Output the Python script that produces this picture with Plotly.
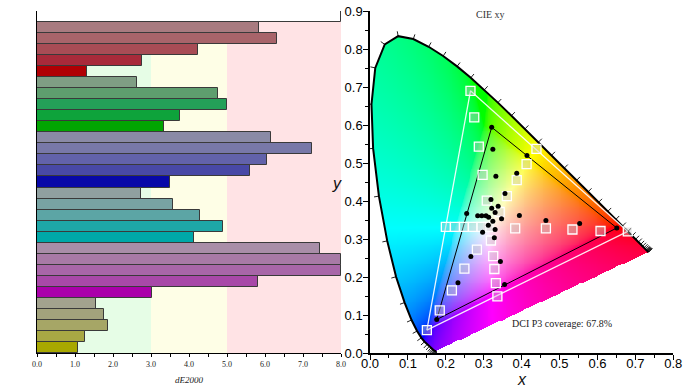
import numpy as np
import plotly.graph_objects as go

# ---------------- data: left panel (dE2000 per patch, top to bottom) ----------------
patch_names = [
    "White",
    "Red 20%", "Red 40%", "Red 60%", "Red 80%", "Red 100%",
    "Green 20%", "Green 40%", "Green 60%", "Green 80%", "Green 100%",
    "Blue 20%", "Blue 40%", "Blue 60%", "Blue 80%", "Blue 100%",
    "Cyan 20%", "Cyan 40%", "Cyan 60%", "Cyan 80%", "Cyan 100%",
    "Magenta 20%", "Magenta 40%", "Magenta 60%", "Magenta 80%", "Magenta 100%",
    "Yellow 20%", "Yellow 40%", "Yellow 60%", "Yellow 80%", "Yellow 100%",
]
de2000 = [
    8.0,
    5.83, 6.32, 4.24, 2.76, 1.32,
    2.64, 4.76, 4.99, 3.75, 3.33,
    6.16, 7.23, 6.06, 5.60, 3.51,
    2.73, 3.57, 4.28, 4.89, 4.13,
    7.44, 8.0, 8.0, 5.81, 3.03,
    1.55, 1.76, 1.87, 1.26, 1.08,
]
patch_colors = [
    "#ffffff",
    "#a87b80", "#a8646a", "#a84c55", "#a82a3a", "#b00004",
    "#7f9e84", "#5e9e6e", "#24a058", "#0ea33b", "#02a502",
    "#8a8aa6", "#7878a8", "#6262aa", "#4848a6", "#0808a8",
    "#90a0a0", "#78a3a3", "#5ca5a5", "#1ea7a7", "#00a8a8",
    "#a98ea8", "#a87aa6", "#a866a8", "#a848a8", "#aa00aa",
    "#a2a28e", "#a2a27c", "#a6a666", "#a8a844", "#a8a800",
]
band_edges = [0.0, 3.0, 5.0, 8.0]
band_colors = ["#e6fde6", "#fefee6", "#ffe3e5"]

# ---------------- data: right panel (CIE 1931 xy) ----------------
locus_nm = list(range(380, 705, 5))
locus_x = [0.1741, 0.1740, 0.1738, 0.1736, 0.1733, 0.1730, 0.1726, 0.1721, 0.1714, 0.1703,
           0.1689, 0.1669, 0.1644, 0.1611, 0.1566, 0.1510, 0.1440, 0.1355, 0.1241, 0.1096,
           0.0913, 0.0687, 0.0454, 0.0235, 0.0082, 0.0039, 0.0139, 0.0389, 0.0743, 0.1142,
           0.1547, 0.1929, 0.2296, 0.2658, 0.3016, 0.3373, 0.3731, 0.4087, 0.4441, 0.4788,
           0.5125, 0.5448, 0.5752, 0.6029, 0.6270, 0.6482, 0.6658, 0.6801, 0.6915, 0.7006,
           0.7079, 0.7140, 0.7190, 0.7230, 0.7260, 0.7283, 0.7300, 0.7311, 0.7320, 0.7327,
           0.7334, 0.7340, 0.7344, 0.7346, 0.7347]
locus_y = [0.0050, 0.0050, 0.0049, 0.0049, 0.0048, 0.0048, 0.0048, 0.0048, 0.0051, 0.0058,
           0.0069, 0.0086, 0.0109, 0.0138, 0.0177, 0.0227, 0.0297, 0.0399, 0.0578, 0.0868,
           0.1327, 0.2007, 0.2950, 0.4127, 0.5384, 0.6548, 0.7502, 0.8120, 0.8338, 0.8262,
           0.8059, 0.7816, 0.7543, 0.7243, 0.6923, 0.6589, 0.6245, 0.5896, 0.5547, 0.5202,
           0.4866, 0.4544, 0.4242, 0.3965, 0.3725, 0.3514, 0.3340, 0.3197, 0.3083, 0.2993,
           0.2920, 0.2859, 0.2809, 0.2770, 0.2740, 0.2717, 0.2700, 0.2689, 0.2680, 0.2673,
           0.2666, 0.2660, 0.2656, 0.2654, 0.2653]

# DCI-P3 target gamut (R, G, B)
p3_x = [0.680, 0.265, 0.150]
p3_y = [0.320, 0.690, 0.060]
# measured gamut (R, G, B)
meas_gamut_x = [0.651, 0.321, 0.176]
meas_gamut_y = [0.329, 0.594, 0.088]

# target patches (white squares)
target_x = [0.3127,
            0.383, 0.464, 0.534, 0.608, 0.680,
            0.308, 0.297, 0.287, 0.275, 0.265,
            0.282, 0.249, 0.216, 0.184, 0.150,
            0.294, 0.270, 0.248, 0.224, 0.200,
            0.319, 0.325, 0.328, 0.332, 0.336,
            0.342, 0.361, 0.387, 0.413, 0.439]
target_y = [0.332,
            0.328, 0.328, 0.325, 0.321, 0.320,
            0.401, 0.469, 0.543, 0.620, 0.690,
            0.272, 0.222, 0.165, 0.112, 0.060,
            0.332, 0.332, 0.332, 0.332, 0.332,
            0.296, 0.255, 0.221, 0.184, 0.149,
            0.371, 0.413, 0.455, 0.497, 0.537]
# measured patches (black dots)
measured_x = [0.321, 0.324, 0.414, 0.332, 0.387, 0.356, 0.319, 0.338, 0.321, 0.330,
              0.255, 0.284, 0.295, 0.306, 0.313, 0.347, 0.394, 0.324, 0.312, 0.464,
              0.553, 0.651, 0.330, 0.297, 0.328, 0.266, 0.344, 0.232, 0.355, 0.176]
measured_y = [0.594, 0.536, 0.520, 0.465, 0.473, 0.420, 0.404, 0.386, 0.381, 0.370,
              0.367, 0.361, 0.361, 0.361, 0.357, 0.353, 0.362, 0.347, 0.336, 0.349,
              0.341, 0.329, 0.325, 0.318, 0.303, 0.254, 0.241, 0.185, 0.180, 0.088]
coverage_text = "DCI P3 coverage: 67.8%"

# ---------------- chromaticity background image ----------------
lx = np.array(locus_x)
ly = np.array(locus_y)
res = 0.0025
gx_1d = np.arange(0.0, 0.76, res) + res / 2
gy_1d = np.arange(0.0, 0.86, res) + res / 2
GX, GY = np.meshgrid(gx_1d, gy_1d)


def inside_polygon(px, py, vx, vy):
    c = np.zeros(px.shape, dtype=bool)
    n = len(vx)
    j = n - 1
    for i in range(n):
        dy = vy[j] - vy[i]
        if dy == 0:
            j = i
            continue
        cond = ((vy[i] > py) != (vy[j] > py)) & (px < (vx[j] - vx[i]) * (py - vy[i]) / dy + vx[i])
        c ^= cond
        j = i
    return c


mask = inside_polygon(GX, GY, lx, ly)
X = GX / GY
Z = (1 - GX - GY) / GY
R = 3.2406 * X - 1.5372 - 0.4986 * Z
G = -0.9689 * X + 1.8758 + 0.0415 * Z
B = 0.0557 * X - 0.2040 + 1.0570 * Z
rgb = np.stack([R, G, B], axis=-1)
# partially desaturate out-of-gamut colours by adding some white, clip, normalise
rgb = rgb - 0.5 * np.minimum(rgb.min(axis=-1, keepdims=True), 0)
rgb = np.clip(rgb, 0, None)
rgb = rgb / np.maximum(rgb.max(axis=-1, keepdims=True), 1e-9)
rgb = np.where(rgb <= 0.0031308, 12.92 * rgb, 1.055 * np.power(rgb, 1 / 2.4) - 0.055)
img = np.zeros(GX.shape + (4,), dtype=np.uint8)
img[..., :3] = np.clip(rgb * 255, 0, 255).astype(np.uint8)
img[..., 3] = np.where(mask, 255, 0).astype(np.uint8)

# wavelength tick marks along the locus (outward normals)
tick_len = 0.013
tx_list, ty_list = [], []
prev_t = np.array([0.707, -0.707])
for i in range(len(lx)):
    a = max(i - 1, 0)
    b = min(i + 1, len(lx) - 1)
    t = np.array([lx[b] - lx[a], ly[b] - ly[a]])
    nrm = np.hypot(*t)
    if nrm < 1e-4:
        t = prev_t
    else:
        t = t / nrm
        prev_t = t
    nvec = np.array([-t[1], t[0]])
    tx_list += [lx[i], lx[i] + tick_len * nvec[0], None]
    ty_list += [ly[i], ly[i] + tick_len * nvec[1], None]

# ---------------- figure ----------------
fig = go.Figure()

fig.add_trace(go.Bar(
    x=de2000, y=list(range(len(patch_names))), orientation="h",
    marker=dict(color=patch_colors, line=dict(color="#3a3a3a", width=1)),
    hovertext=patch_names, hoverinfo="text+x",
    xaxis="x", yaxis="y", showlegend=False,
))

fig.add_trace(go.Image(
    z=img, colormodel="rgba256", x0=float(gx_1d[0]), dx=res, y0=float(gy_1d[0]), dy=res,
    xaxis="x2", yaxis="y2", hoverinfo="skip",
))
fig.add_trace(go.Scatter(x=tx_list, y=ty_list, mode="lines", line=dict(color="#222222", width=1),
                         xaxis="x2", yaxis="y2", hoverinfo="skip", showlegend=False))
fig.add_trace(go.Scatter(x=locus_x, y=locus_y, mode="lines", line=dict(color="black", width=2),
                         xaxis="x2", yaxis="y2", hoverinfo="skip", showlegend=False))
fig.add_trace(go.Scatter(x=p3_x + [p3_x[0]], y=p3_y + [p3_y[0]], mode="lines",
                         line=dict(color="rgba(255,255,255,0.9)", width=1.3),
                         xaxis="x2", yaxis="y2", hoverinfo="skip", showlegend=False))
fig.add_trace(go.Scatter(x=meas_gamut_x + [meas_gamut_x[0]], y=meas_gamut_y + [meas_gamut_y[0]],
                         mode="lines", line=dict(color="black", width=1),
                         xaxis="x2", yaxis="y2", hoverinfo="skip", showlegend=False))
fig.add_trace(go.Scatter(x=target_x, y=target_y, mode="markers",
                         marker=dict(symbol="square", size=9, color="rgba(200,200,200,0.4)",
                                     line=dict(color="white", width=1.3)),
                         xaxis="x2", yaxis="y2", showlegend=False))
fig.add_trace(go.Scatter(x=measured_x, y=measured_y, mode="markers",
                         marker=dict(size=5, color="black"),
                         xaxis="x2", yaxis="y2", showlegend=False))

shapes = []
for k in range(3):
    shapes.append(dict(type="rect", xref="x", yref="y domain", x0=band_edges[k], x1=band_edges[k + 1],
                       y0=0, y1=1, fillcolor=band_colors[k], line=dict(width=0), layer="below"))

W, H = 693, 390
mt, mb = 11, 37
plot_h = H - mt - mb

annotations = [
    dict(text="<i>dE2000</i>", xref="paper", yref="paper", x=189 / W, y=(352.7 - 380) / plot_h,
         showarrow=False, font=dict(family="Liberation Serif", size=9, color="#222"),
         xanchor="center", yanchor="middle"),
    dict(text="<i>y</i>", xref="paper", yref="paper", x=337 / W, y=(352.7 - 183) / plot_h,
         showarrow=False, font=dict(family="Liberation Sans", size=16, color="#111"),
         xanchor="center", yanchor="middle"),
    dict(text="<i>x</i>", xref="paper", yref="paper", x=521.7 / W, y=(352.7 - 379) / plot_h,
         showarrow=False, font=dict(family="Liberation Sans", size=16, color="#111"),
         xanchor="center", yanchor="middle"),
    dict(text="CIE xy", xref="paper", yref="paper", x=490 / W, y=(352.7 - 14) / plot_h,
         showarrow=False, font=dict(family="Liberation Serif", size=10, color="#333"),
         xanchor="center", yanchor="middle"),
    dict(text=coverage_text, xref="x2", yref="y2", x=0.5077, y=0.0775,
         showarrow=False, font=dict(family="Liberation Serif", size=10, color="#222"),
         xanchor="center", yanchor="middle"),
]

fig.update_layout(
    width=W, height=H, autosize=False,
    margin=dict(l=0, r=0, t=mt, b=mb, pad=0, autoexpand=False),
    paper_bgcolor="white", plot_bgcolor="rgba(0,0,0,0)",
    bargap=0,
    showlegend=False,
    shapes=shapes,
    annotations=annotations,
    xaxis=dict(domain=[37 / W, 341 / W], range=[0, 8], anchor="y", automargin=False,
               showline=True, linecolor="black", linewidth=1, mirror=False,
               ticks="outside", ticklen=3, tickcolor="black", tickwidth=1,
               dtick=1, tick0=0, tickformat=".1f",
               tickfont=dict(family="Liberation Serif", size=8, color="#222"),
               minor=dict(dtick=0.5, ticks="outside", ticklen=3, tickcolor="black"),
               showgrid=False, zeroline=False),
    yaxis=dict(domain=[0, 1], range=[30.5, -0.5], anchor="x", automargin=False,
               showline=True, linecolor="black", linewidth=1,
               showticklabels=False, ticks="", showgrid=False, zeroline=False),
    xaxis2=dict(domain=[370 / W, 673.3 / W], range=[0, 0.8], anchor="y2", automargin=False,
                showline=True, linecolor="black", linewidth=1.5,
                ticks="outside", ticklen=5, tickcolor="black", tickwidth=1.2,
                dtick=0.1, tick0=0, tickformat=".1f", ticklabelstandoff=-7,
                tickfont=dict(family="Liberation Sans", size=13, color="black"),
                minor=dict(dtick=0.05, ticks="outside", ticklen=3, tickcolor="black"),
                showgrid=False, zeroline=False, scaleanchor=False),
    yaxis2=dict(domain=[0, 1], range=[0, 0.9], anchor="x2", autorange=False, automargin=False,
                showline=True, linecolor="black", linewidth=1.5,
                ticks="outside", ticklen=5, tickcolor="black", tickwidth=1.2,
                dtick=0.1, tick0=0, tickformat=".1f", ticklabelstandoff=-2,
                tickfont=dict(family="Liberation Sans", size=13, color="black"),
                minor=dict(dtick=0.05, ticks="outside", ticklen=3, tickcolor="black"),
                showgrid=False, zeroline=False, scaleanchor=False),
)

fig.write_html("out.html", config={"displayModeBar": False},
               post_script="document.body.style.margin='0px';")
